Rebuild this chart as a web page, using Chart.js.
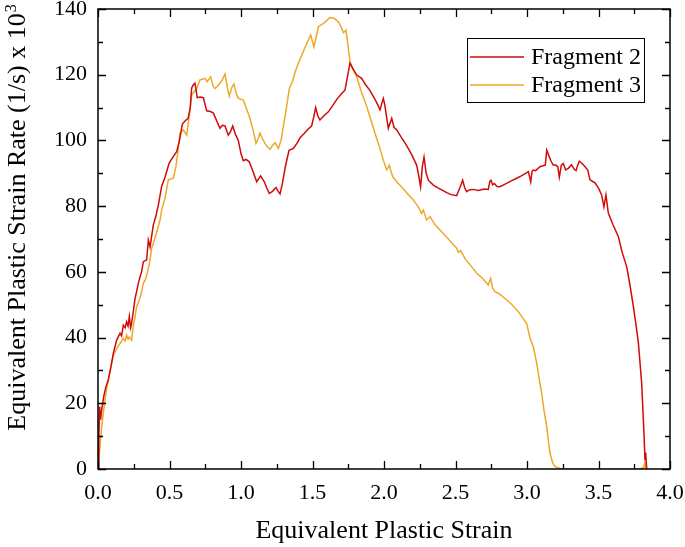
<!DOCTYPE html>
<html><head><meta charset="utf-8">
<script src="https://cdn.jsdelivr.net/npm/chart.js@4.4.0/dist/chart.umd.min.js"></script>
<style>html,body{margin:0;padding:0;background:#fff}</style>
</head><body>
<canvas id="c" width="685" height="547"></canvas>
<script>
const seriesNames = ['Fragment 2', 'Fragment 3'];
const seriesColors = ['#D10A0A', '#EDA82A'];

const frag2Strain = [0.000,0.006,0.012,0.018,0.026,0.040,0.055,0.072,0.090,0.107,0.131,0.154,0.165,0.177,0.190,0.200,0.210,0.219,0.228,0.235,0.247,0.259,0.270,0.282,0.294,0.305,0.317,0.340,0.352,0.364,0.387,0.405,0.422,0.445,0.470,0.497,0.525,0.550,0.570,0.590,0.610,0.630,0.645,0.655,0.668,0.678,0.694,0.715,0.737,0.760,0.785,0.806,0.830,0.853,0.870,0.888,0.911,0.925,0.942,0.960,0.981,1.000,1.016,1.035,1.058,1.080,1.110,1.137,1.163,1.180,1.198,1.220,1.245,1.260,1.273,1.290,1.310,1.336,1.366,1.390,1.413,1.440,1.470,1.494,1.508,1.522,1.537,1.552,1.580,1.611,1.640,1.670,1.704,1.727,1.745,1.762,1.780,1.809,1.844,1.870,1.900,1.930,1.949,1.972,1.995,2.005,2.030,2.054,2.070,2.089,2.120,2.150,2.190,2.228,2.240,2.256,2.268,2.280,2.295,2.310,2.345,2.380,2.410,2.438,2.470,2.508,2.530,2.550,2.565,2.578,2.600,2.625,2.660,2.700,2.729,2.740,2.748,2.760,2.772,2.790,2.811,2.850,2.890,2.928,2.960,2.990,3.010,3.026,3.035,3.044,3.060,3.091,3.110,3.128,3.138,3.156,3.170,3.184,3.200,3.215,3.226,3.240,3.254,3.270,3.289,3.311,3.330,3.343,3.355,3.366,3.385,3.406,3.425,3.440,3.460,3.476,3.500,3.522,3.538,3.552,3.569,3.600,3.639,3.665,3.697,3.720,3.744,3.765,3.779,3.802,3.818,3.825,3.830,3.837];
const frag2Rate = [0,10,19,15,18,22,25,27.1,31,35.2,39.3,41.3,40.5,43.8,43,44.8,43.5,46.4,43,44.4,48,51.9,54,56.5,58.5,60,63.1,63.6,69.7,67.6,74.3,77,80.3,86,89,93,95,96.6,100,105,106,106.7,110,116,117,117.4,113,113.2,113,109,108.8,108.4,106,103.7,104.6,104.4,101.6,102.5,104.4,102,100,96,93.8,94.2,93.5,91,87.4,89.2,87.4,85.5,83.9,84.5,85.7,84.5,83.7,87,92,97,97.6,99,100.8,102,103.5,104.4,107,110,107.5,106.2,107.5,108.7,110.5,112.5,114.3,115.3,119.5,123.5,122,119.9,118.9,117,115.3,113,111.5,109.3,112.8,111,103.7,106.7,104,103.2,101,99,96,92.5,90,85.9,92,94.9,90,87.9,86.4,85.5,84.8,84.1,83.5,83.2,85.5,87.9,85.5,84.4,85,85.1,84.8,85.2,85.1,87.5,87.9,86.5,86.9,86,85.9,86.8,87.7,88.5,89.2,90,90.5,87.4,90.5,91,90.8,92,92.3,92.5,97.1,95,93.5,92.5,92.5,92,88.8,92.5,93,91,91.5,92.6,91.2,90.8,92.5,93.7,93,92,91,88,87.5,87.1,85.5,83.4,79.8,83.4,77.8,74.5,70.7,66,61.6,56,49.4,43,38.3,26.1,10.9,2.7,5,0];

const frag3Strain = [0.000,0.010,0.018,0.026,0.037,0.055,0.072,0.090,0.107,0.131,0.154,0.177,0.190,0.200,0.210,0.219,0.235,0.247,0.258,0.270,0.289,0.300,0.317,0.335,0.352,0.364,0.375,0.387,0.410,0.434,0.445,0.469,0.492,0.527,0.545,0.560,0.573,0.597,0.620,0.640,0.655,0.690,0.713,0.748,0.764,0.788,0.805,0.818,0.835,0.853,0.870,0.888,0.905,0.918,0.935,0.951,0.965,0.981,1.016,1.040,1.063,1.085,1.105,1.120,1.133,1.150,1.168,1.185,1.203,1.220,1.238,1.250,1.261,1.280,1.296,1.318,1.338,1.360,1.380,1.401,1.430,1.460,1.487,1.510,1.541,1.580,1.622,1.650,1.681,1.700,1.716,1.734,1.748,1.762,1.785,1.809,1.840,1.870,1.902,1.935,1.972,1.995,2.019,2.037,2.060,2.089,2.120,2.160,2.205,2.240,2.263,2.275,2.298,2.322,2.357,2.403,2.450,2.490,2.508,2.520,2.535,2.570,2.613,2.650,2.690,2.729,2.746,2.760,2.776,2.800,2.846,2.890,2.939,2.970,2.998,3.021,3.044,3.068,3.085,3.103,3.120,3.138,3.150,3.161,3.180,3.196,3.243,3.790,3.815,3.825,3.830];
const frag3Rate = [0,5,9,12.9,17,23,27.1,31,34.5,36.7,38.2,39.8,39,40.8,39.5,40.2,39.2,43.8,46,49.4,51.4,53,56.5,58,61.1,63.6,67.2,68.7,72,75.8,78.8,82.5,88,88.5,92,97,102.2,103.2,101.6,108,113.8,115.8,118.4,118.9,117.9,119.4,116.5,115.8,116.5,117.4,118.5,120.2,116,113.5,116,117.2,114.5,112.8,112.3,109.5,106.7,103,99.1,100.5,102.2,100.5,99.1,98,97.3,98.5,99.3,98.5,97.6,100,104.2,110,115.8,118,121,123.5,126.5,129.5,132.1,128.5,134.6,135.7,137.4,137.2,136.1,134.5,132.8,133.6,129,124,121.5,119.4,115,111.5,107.2,102.5,97.5,94,91,92.4,89,87.4,86,84,81.9,79.8,77.8,78.8,75.8,76.8,74.3,72.2,70,68,67.2,65.9,66.5,63.8,61.6,59.5,58,56,58,55,54,53.5,51.9,50.2,47.9,46,44.3,39.8,37.2,32.2,27.5,23,17.5,12.9,8.5,4.8,1.8,0.7,0,0,0.5,2,0];

const xTickLabels = ['0.0','0.5','1.0','1.5','2.0','2.5','3.0','3.5','4.0'];
const yTickLabels = ['0','20','40','60','80','100','120','140'];
const xAxisTitle = 'Equivalent Plastic Strain';
const yAxisTitle = 'Equivalent Plastic Strain Rate (1/s) x 10';
const yAxisTitleSup = '3';

const FONT = "'Liberation Serif', 'Times New Roman', serif";

const toPoints = (xs, ys) => xs.map((x, i) => ({ x: x, y: ys[i] }));

const framePlugin = {
  id: 'frame',
  afterDatasetsDraw(chart) {
    const ctx = chart.ctx, a = chart.chartArea;
    const xs = chart.scales.x, ys = chart.scales.y;
    ctx.save();
    ctx.strokeStyle = '#000';
    ctx.lineWidth = 1.5;
    ctx.strokeRect(a.left, a.top, a.right - a.left, a.bottom - a.top);
    ctx.lineWidth = 1.3;
    ctx.beginPath();
    for (let i = 0; i < xTickLabels.length * 2 - 1; i++) {
      const v = xs.min + i * 0.25;
      const px = Math.round(xs.getPixelForValue(v)) + 0.5;
      const len = i % 2 === 0 ? 8 : 5;
      ctx.moveTo(px, a.bottom); ctx.lineTo(px, a.bottom - len);
      ctx.moveTo(px, a.top); ctx.lineTo(px, a.top + len);
    }
    for (let i = 0; i < yTickLabels.length * 2 - 1; i++) {
      const v = ys.min + i * 10;
      const py = Math.round(ys.getPixelForValue(v)) + 0.5;
      const len = i % 2 === 0 ? 8 : 5;
      ctx.moveTo(a.left, py); ctx.lineTo(a.left + len, py);
      ctx.moveTo(a.right, py); ctx.lineTo(a.right - len, py);
    }
    ctx.stroke();

    // legend
    const bx = a.right - 203, by = a.top + 29, bw = 177, bh = 64;
    ctx.fillStyle = '#fff';
    ctx.fillRect(bx, by, bw, bh);
    ctx.lineWidth = 1;
    ctx.strokeStyle = '#000';
    ctx.strokeRect(bx + 0.5, by + 0.5, bw, bh);
    ctx.font = '24px ' + FONT;
    ctx.textBaseline = 'middle';
    ctx.textAlign = 'left';
    chart.data.datasets.forEach((ds, i) => {
      const ry = by + 19 + i * 28;
      ctx.strokeStyle = ds.borderColor;
      ctx.lineWidth = 1.5;
      ctx.beginPath();
      ctx.moveTo(bx + 3, ry); ctx.lineTo(bx + 57, ry);
      ctx.stroke();
      ctx.fillStyle = '#000';
      ctx.fillText(ds.label, bx + 64, ry + 1);
    });

    // y axis title with superscript
    ctx.save();
    ctx.translate(25, (a.top + a.bottom) / 2 - 21);
    ctx.rotate(-Math.PI / 2);
    ctx.font = '26px ' + FONT;
    const w1 = ctx.measureText(yAxisTitle).width;
    ctx.font = '16px ' + FONT;
    const w2 = ctx.measureText(yAxisTitleSup).width;
    const start = -(w1 + w2) / 2;
    ctx.fillStyle = '#000';
    ctx.textBaseline = 'alphabetic';
    ctx.textAlign = 'left';
    ctx.font = '26px ' + FONT;
    ctx.fillText(yAxisTitle, start, 0);
    ctx.font = '16px ' + FONT;
    ctx.fillText(yAxisTitleSup, start + w1 + 1, -9);
    ctx.restore();
    ctx.restore();
  }
};

new Chart(document.getElementById('c'), {
  type: 'line',
  data: {
    datasets: [
      { label: seriesNames[0], data: toPoints(frag2Strain, frag2Rate), borderColor: seriesColors[0], backgroundColor: seriesColors[0], borderWidth: 1.5, pointRadius: 0, tension: 0, fill: false },
      { label: seriesNames[1], data: toPoints(frag3Strain, frag3Rate), borderColor: seriesColors[1], backgroundColor: seriesColors[1], borderWidth: 1.5, pointRadius: 0, tension: 0, fill: false }
    ]
  },
  options: {
    responsive: false,
    animation: false,
    devicePixelRatio: 1,
    layout: { padding: { top: 9, right: 15, left: 0, bottom: 0 } },
    plugins: { legend: { display: false }, tooltip: { enabled: false } },
    scales: {
      x: {
        type: 'linear', min: 0, max: 4,
        grid: { display: false, drawTicks: false },
        border: { display: false },
        ticks: { stepSize: 0.5, color: '#000', padding: 11, font: { family: FONT, size: 22 },
          callback: (v, i) => xTickLabels[i] },
        title: { display: true, text: xAxisTitle, color: '#000', font: { family: FONT, size: 26 }, padding: { top: 0, bottom: 0 } },
        afterFit: s => { s.height = 78; s.paddingLeft = 0; s.paddingRight = 0; }
      },
      y: {
        type: 'linear', min: 0, max: 140,
        grid: { display: false, drawTicks: false },
        border: { display: false },
        ticks: { stepSize: 20, color: '#000', padding: 11, font: { family: FONT, size: 22 },
          callback: (v, i) => yTickLabels[i] },
        afterFit: s => { s.width = 98; s.paddingTop = 0; s.paddingBottom = 0; }
      }
    }
  },
  plugins: [framePlugin]
});
</script>
</body></html>
